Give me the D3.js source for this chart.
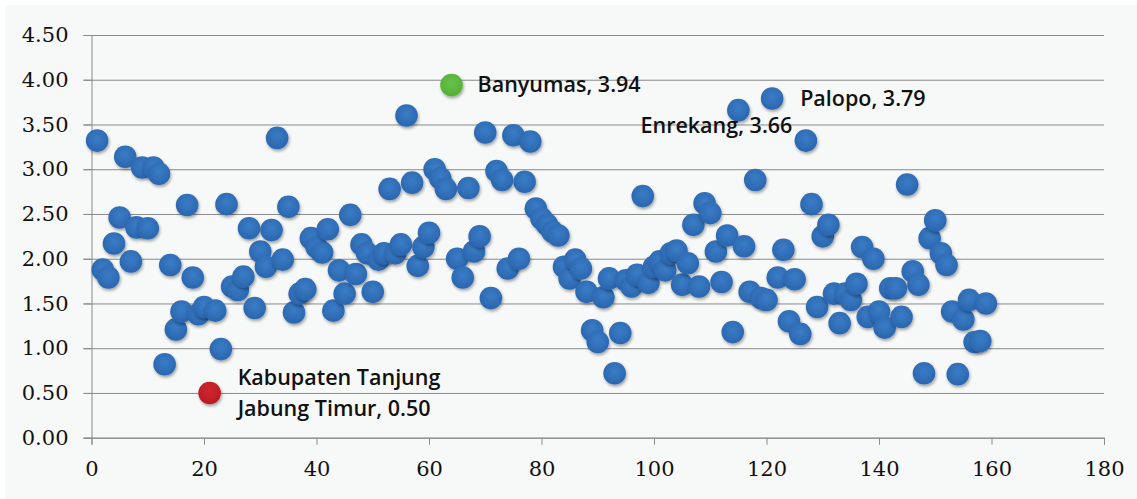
<!DOCTYPE html>
<html>
<head>
<meta charset="utf-8">
<script src="https://cdn.jsdelivr.net/npm/d3@7"></script>
<style>
  html, body { margin: 0; padding: 0; background: #ffffff; }
  svg { display: block; }
</style>
</head>
<body>
<svg id="chart" width="1137" height="499"></svg>
<script>
// ---- data ----
const xValues = [
  1,2,3,4,5,6,7,8,9,10,11,12,13,14,15,16,17,18,19,20,
  21,22,23,24,25,26,27,28,29,30,31,32,33,34,35,36,37,38,39,40,
  41,42,43,44,45,46,47,48,49,50,51,52,53,54,55,56,57,58,59,60,
  61,62,63,64,65,66,67,68,69,70,71,72,73,74,75,76,77,78,79,80,
  81,82,83,84,85,86,87,88,89,90,91,92,93,94,95,96,97,98,99,100,
  101,102,103,104,105,106,107,108,109,110,111,112,113,114,115,116,117,118,119,120,
  121,122,123,124,125,126,127,128,129,130,131,132,133,134,135,136,137,138,139,140,
  141,142,143,144,145,146,147,148,149,150,151,152,153,154,155,156,157,158,159
];
const yValues = [
  3.32,1.88,1.79,2.17,2.46,3.14,1.97,2.35,3.02,2.34,3.02,2.95,0.82,1.93,1.21,1.41,2.60,1.79,1.38,1.46,
  0.50,1.42,0.99,2.61,1.69,1.65,1.80,2.34,1.45,2.08,1.91,2.32,3.35,1.99,2.58,1.40,1.61,1.66,2.23,2.13,
  2.07,2.33,1.42,1.87,1.61,2.49,1.83,2.16,2.06,1.63,1.99,2.06,2.78,2.06,2.16,3.60,2.85,1.92,2.13,2.29,
  3.00,2.90,2.78,3.94,2.00,1.79,2.79,2.08,2.25,3.41,1.56,2.98,2.88,1.89,3.38,2.00,2.86,3.31,2.56,2.45,
  2.38,2.30,2.26,1.91,1.78,1.99,1.89,1.63,1.20,1.07,1.57,1.78,0.72,1.17,1.76,1.69,1.82,2.70,1.73,1.91,
  1.97,1.87,2.06,2.09,1.71,1.95,2.38,1.69,2.62,2.51,2.08,1.74,2.26,1.18,3.66,2.14,1.63,2.88,1.56,1.54,
  3.79,1.79,2.10,1.30,1.77,1.16,3.32,2.61,1.46,2.25,2.38,1.61,1.28,1.61,1.54,1.72,2.13,1.35,2.00,1.41,
  1.23,1.67,1.67,1.35,2.83,1.86,1.71,0.72,2.23,2.43,2.06,1.93,1.41,0.71,1.32,1.54,1.07,1.08,1.50
];
const xTicks = [0,20,40,60,80,100,120,140,160,180];
const yTicks = [0,0.5,1,1.5,2,2.5,3,3.5,4,4.5];

const highlightNames  = ["Kabupaten Tanjung Jabung Timur", "Banyumas", "Enrekang", "Palopo"];
const highlightX      = [21, 64, 115, 121];
const highlightValues = [0.50, 3.94, 3.66, 3.79];

// ---- layout / style ----
const svg = d3.select("#chart");
const W = 1137, H = 499;
const x = d3.scaleLinear().domain([0, 180]).range([91.5, 1104]);
const y = d3.scaleLinear().domain([0, 4.5]).range([437.7, 35]);

svg.append("rect").attr("x", 5).attr("y", 5).attr("width", W - 5).attr("height", H - 5)
  .attr("fill", "#f7f8f8");

const defs = svg.append("defs");
const shadow = defs.append("filter").attr("id", "shadow")
  .attr("x", "-40%").attr("y", "-40%").attr("width", "180%").attr("height", "180%");
shadow.append("feDropShadow").attr("dx", 1).attr("dy", 2).attr("stdDeviation", 1.4)
  .attr("flood-color", "#000").attr("flood-opacity", 0.35);

function grad(id, c1, c2) {
  const g = defs.append("radialGradient").attr("id", id)
    .attr("cx", "50%").attr("cy", "40%").attr("r", "60%");
  g.append("stop").attr("offset", "0%").attr("stop-color", c1);
  g.append("stop").attr("offset", "100%").attr("stop-color", c2);
}
grad("gBlue", "#3a7cc6", "#2a66ae");
grad("gRed", "#cf2630", "#b81c24");
grad("gGreen", "#68c24a", "#52b037");

const gridColor = "#8a8a8a";
const tickFont = "'DejaVu Serif', serif";

// gridlines
const grid = svg.append("g").attr("transform", "translate(83.5,0)")
  .call(d3.axisLeft(y).tickValues(yTicks).tickSize(-(1104 - 83.5)).tickFormat(""));
grid.select(".domain").remove();
grid.selectAll("line").attr("stroke", gridColor).attr("stroke-width", 1);

// y axis
const yAxis = svg.append("g").attr("transform", "translate(91.5,0)")
  .call(d3.axisLeft(y).tickValues(yTicks).tickSize(8).tickPadding(15).tickFormat(d3.format(".2f")));
yAxis.selectAll("path,line").attr("stroke", gridColor);
yAxis.selectAll("text").attr("font-family", tickFont).attr("font-size", 21).attr("fill", "#111");

// x axis
const xAxis = svg.append("g").attr("transform", "translate(0,437.7)")
  .call(d3.axisBottom(x).tickValues(xTicks).tickSize(7).tickPadding(16).tickFormat(d3.format("d")));
xAxis.selectAll("path,line").attr("stroke", gridColor);
xAxis.selectAll("text").attr("font-family", tickFont).attr("font-size", 21).attr("fill", "#111");

// points
const pts = xValues.map((v, i) => ({ x: v, y: yValues[i] }));
function colorFor(d) {
  const k = highlightX.indexOf(d.x);
  if (k === 0) return "url(#gRed)";
  if (k === 1) return "url(#gGreen)";
  return "url(#gBlue)";
}
svg.append("g").selectAll("circle").data(pts).join("circle")
  .attr("cx", d => x(d.x)).attr("cy", d => y(d.y)).attr("r", 11.3)
  .attr("fill", colorFor).attr("filter", "url(#shadow)");

// annotations
const fmt = d3.format(".2f");
const labelFont = "'Open Sans', sans-serif";
const ann = svg.append("g").attr("font-family", labelFont).attr("font-size", 21.5)
  .attr("font-weight", 600).attr("fill", "#111");
// Banyumas
ann.append("text").attr("x", x(highlightX[1]) + 26).attr("y", y(highlightValues[1]) + 7)
  .text(highlightNames[1] + ", " + fmt(highlightValues[1]));
// Palopo
ann.append("text").attr("x", x(highlightX[3]) + 28).attr("y", y(highlightValues[3]) + 7)
  .text(highlightNames[3] + ", " + fmt(highlightValues[3]));
// Enrekang (below-left of point)
ann.append("text").attr("x", x(highlightX[2]) + 54).attr("y", y(highlightValues[2]) + 23)
  .attr("text-anchor", "end")
  .text(highlightNames[2] + ", " + fmt(highlightValues[2]));
// Kabupaten Tanjung Jabung Timur (two lines)
const kx = x(highlightX[0]) + 28, ky = y(highlightValues[0]);
const words = highlightNames[0].split(" ");
ann.append("text").attr("x", kx).attr("y", ky - 8).text(words.slice(0, 2).join(" "));
ann.append("text").attr("x", kx).attr("y", ky + 23)
  .text(words.slice(2).join(" ") + ", " + fmt(highlightValues[0]));
</script>
</body>
</html>
